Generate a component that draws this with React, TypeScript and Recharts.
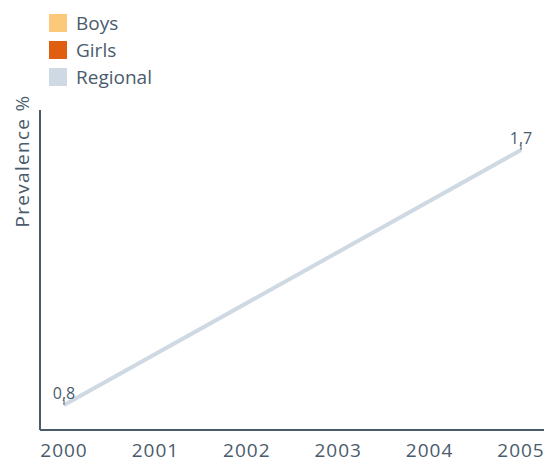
import { LineChart, Line, XAxis, YAxis, LabelList } from 'recharts'

const years = ['2000', '2001', '2002', '2003', '2004', '2005']
const boys: (number | null)[] = [null, null, null, null, null, null]
const girls: (number | null)[] = [null, null, null, null, null, null]
const regional: (number | null)[] = [0.8, null, null, null, null, 1.7]

const data = years.map((year, i) => ({
  year,
  Boys: boys[i],
  Girls: girls[i],
  Regional: regional[i],
}))

const TEXT = '#4a5b6c'
const FONT = '"Open Sans", sans-serif'

const legendItems = [
  { name: 'Boys', color: '#fcc97b' },
  { name: 'Girls', color: '#e05e0f' },
  { name: 'Regional', color: '#cfd9e4' },
]

function LegendBox() {
  return (
    <div style={{ position: 'absolute', left: 49, top: 9, fontFamily: FONT, zIndex: 1 }}>
      {legendItems.map((it) => (
        <div key={it.name} style={{ display: 'flex', alignItems: 'center', height: 27 }}>
          <span style={{ width: 18, height: 18, background: it.color, display: 'inline-block', marginRight: 9 }} />
          <span style={{ fontSize: 19, color: TEXT }}>{it.name}</span>
        </div>
      ))}
    </div>
  )
}

function PointLabel(props: any) {
  const { x, y, value } = props
  if (value == null) return null
  return (
    <g>
      <line x1={x} y1={y} x2={x} y2={y - 5} stroke={TEXT} strokeWidth={1} />
      <text x={x} y={y - 6} textAnchor="middle" fontSize={16} fill={TEXT} fontFamily={FONT}>
        {String(value).replace('.', ',')}
      </text>
    </g>
  )
}

export default function App() {
  return (
    <div style={{ position: 'absolute', left: 0, top: 0 }}>
      <LegendBox />
      <LineChart width={546} height={467} data={data} margin={{ top: 110, right: 2, bottom: 0, left: 0 }}>
        <XAxis
          dataKey="year"
          padding={{ left: 24, right: 23 }}
          height={37}
          tickLine={false}
          tickMargin={8}
          axisLine={{ stroke: TEXT, strokeWidth: 2 }}
          tick={{ fill: TEXT, fontSize: 19, fontFamily: FONT, letterSpacing: 1 }}
        />
        <YAxis
          width={40}
          domain={['dataMin', 'dataMax']}
          padding={{ top: 40, bottom: 25 }}
          tick={false}
          tickLine={false}
          axisLine={{ stroke: TEXT, strokeWidth: 2 }}
          label={() => (
            <text
              x={22}
              y={161}
              transform="rotate(-90 22 161)"
              textAnchor="middle"
              dominantBaseline="central"
              fontSize={19}
              letterSpacing={1.3}
              fill={TEXT}
              fontFamily={FONT}
            >
              Prevalence %
            </text>
          )}
        />
        <Line dataKey="Boys" stroke="#fcc97b" isAnimationActive={false} dot={false} />
        <Line dataKey="Girls" stroke="#e05e0f" isAnimationActive={false} dot={false} />
        <Line
          dataKey="Regional"
          stroke="#cfd9e4"
          strokeWidth={4}
          connectNulls
          dot={false}
          isAnimationActive={false}
        >
          <LabelList dataKey="Regional" content={PointLabel} />
        </Line>
      </LineChart>
    </div>
  )
}
